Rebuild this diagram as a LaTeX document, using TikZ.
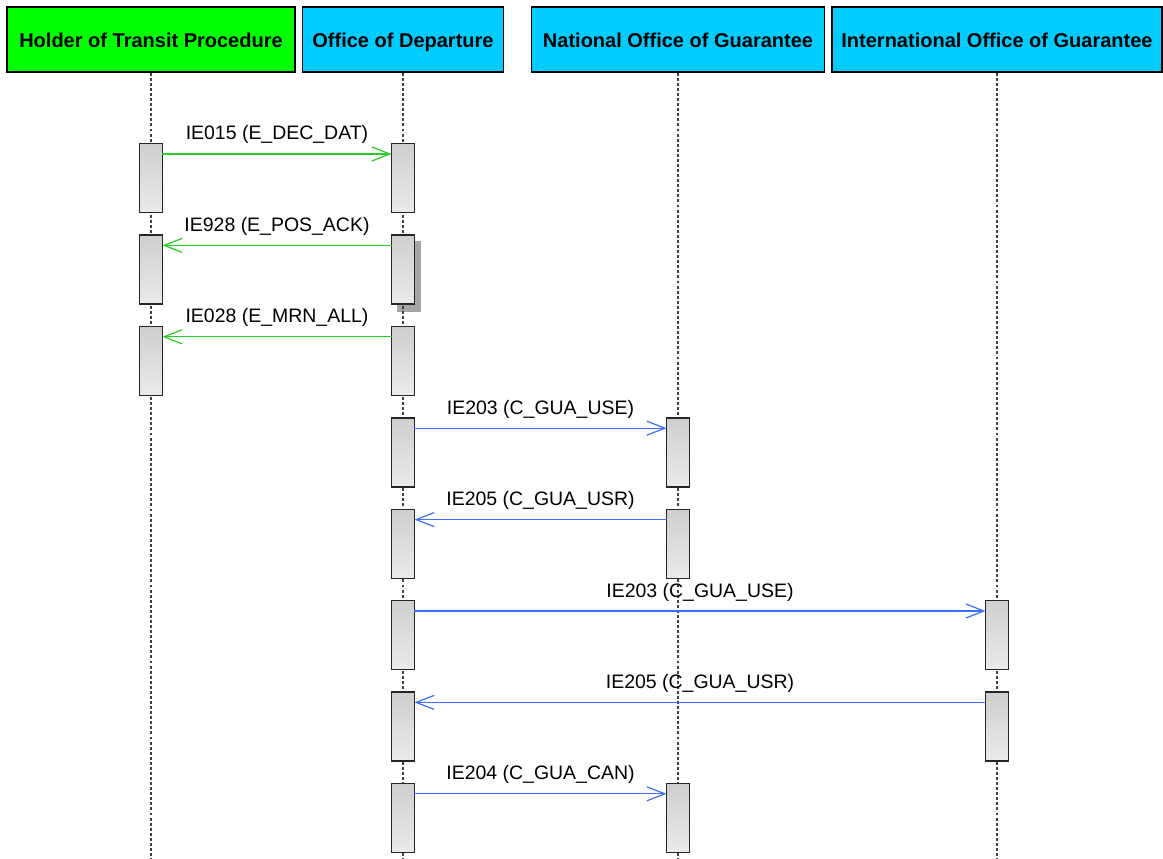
\documentclass[tikz,border=0pt]{standalone}
\usepackage{fontspec}
\setmainfont{Liberation Sans}
\usetikzlibrary{arrows.meta,backgrounds}

\definecolor{hgreen}{RGB}{0,255,0}
\definecolor{hcyan}{RGB}{0,204,255}
\definecolor{mgreen}{RGB}{40,205,40}
\definecolor{mblue}{RGB}{60,110,255}

\begin{document}
\begin{tikzpicture}[x=0.75pt,y=-0.75pt,
  head/.style={draw,line width=1.2pt,minimum height=48.75pt,inner sep=0pt,text height=13.25pt,text depth=1.25pt,font=\fontsize{15}{18}\selectfont\bfseries},
  life/.style={draw=black!75,line width=0.8pt,dash pattern=on 2.2pt off 1.6pt},
  act/.style={draw=black!85,line width=1pt,top color=gray!38,bottom color=gray!16,minimum width=17.25pt,minimum height=51.75pt,inner sep=0pt,anchor=north},
  msg/.style={line width=0.9pt,-{Straight Barb[length=13.5pt,width=10.5pt]},shorten <=8.6pt,shorten >=8.6pt},
  lbl/.style={anchor=base,yshift=10.5pt,font=\fontsize{14.6}{17}\selectfont}]
  \useasboundingbox (0,0) rectangle (1163,859);

  \node[head,fill=hgreen,minimum width=216pt] (hold) at (151,39.5) {Holder of Transit Procedure};
  \node[head,fill=hcyan,minimum width=150.75pt] (dep) at (403,39.5) {Office of Departure};
  \node[head,fill=hcyan,minimum width=219.75pt] (nat) at (678,39.5) {National Office of Guarantee};
  \node[head,fill=hcyan,minimum width=247.5pt] (intl) at (997,39.5) {International Office of Guarantee};

  \foreach \n in {hold,dep,nat,intl}
    \draw[life] (\n.south) -- (\n.south |- 0,859);

  % one activation pair and one message per row
  \foreach \i/\src/\dst/\txt/\col [evaluate=\i as \y using 143+91.4*(\i-1)] in {
      1/hold/dep/IE015 (E\_DEC\_DAT)/green,
      2/dep/hold/IE928 (E\_POS\_ACK)/green,
      3/dep/hold/IE028 (E\_MRN\_ALL)/green,
      4/dep/nat/IE203 (C\_GUA\_USE)/blue,
      5/nat/dep/IE205 (C\_GUA\_USR)/blue,
      6/dep/intl/IE203 (C\_GUA\_USE)/blue,
      7/intl/dep/IE205 (C\_GUA\_USR)/blue,
      8/dep/nat/IE204 (C\_GUA\_CAN)/blue}
  {
    \node[act] (s\i) at (\src.south |- 0,\y) {};
    \node[act] (t\i) at (\dst.south |- 0,\y) {};
    \draw[msg,draw=m\col] ([yshift=-8.25pt]s\i.north) -- node[lbl] {\txt} ([yshift=-8.25pt]t\i.north);
  }

  \begin{scope}[on background layer]
    \fill[gray!70] ([shift={(6,7)}]s2.south west) rectangle ([shift={(6,7)}]s2.north east);
  \end{scope}
\end{tikzpicture}
\end{document}
